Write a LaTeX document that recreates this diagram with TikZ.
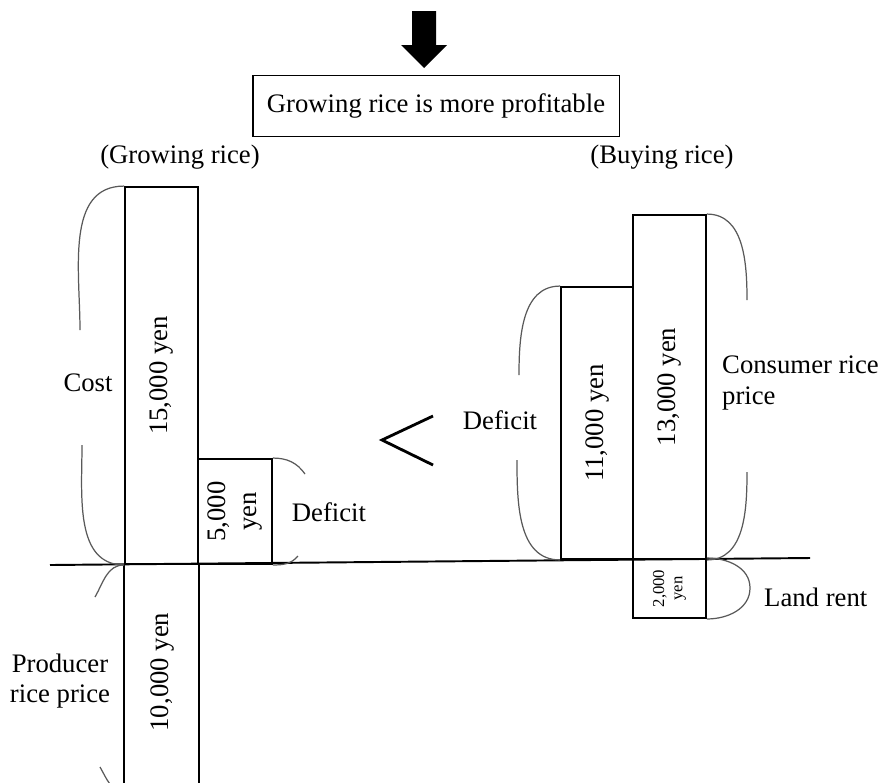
\documentclass[tikz,border=0pt]{standalone}
\usepackage{fontspec}
\setmainfont{Liberation Serif}
\usepackage{tikz}
\usetikzlibrary{calc, arrows.meta, positioning}

\begin{document}
\begin{tikzpicture}[x=0.02cm, y=-0.02cm,
    font=\fontsize{15.2}{17.5}\selectfont,
    bar/.style={draw, line width=1.1pt, inner sep=0pt},
    brace/.style={draw=black!65, line width=0.7pt},
    val/.style={rotate=90, align=center, inner sep=1pt}]
        \clip (0,0) rectangle (878,782);

        % header
        \fill (412,11) -- (436,11) -- (436,45) -- (447,45) -- (424,68) -- (401,45) -- (412,45) -- cycle;
        \node [draw, line width=1.1pt, minimum width=7.34cm, minimum height=1.22cm] (head) at (436,106) {Growing rice is more profitable};
        \node (grow) at (180,157) {(Growing rice)};
        \node (buy) at (662,157) {(Buying rice)};

        % growing rice
        \node [bar, minimum width=1.46cm, minimum height=7.54cm] (cost) at (161.5,375.5) {};
        \node [bar, minimum width=1.48cm, minimum height=2.10cm] (defL) at (235,511.5) {};
        \draw [line width=1.1pt] (cost.south west) -- ++(0,230);
        \draw [line width=1.1pt] (cost.south east) -- ++(0,230);
        \draw [line width=1.1pt] (50,565) -- (810,558);
        \node [val] at (cost.center) {15,000 yen};
        \node [val] at (defL.center) {5,000\\yen};
        \node [val] (prod) at (162,672) {10,000 yen};

        % buying rice
        \node [bar, minimum width=1.44cm, minimum height=5.44cm] (defR) at (597,423) {};
        \node [bar, minimum width=1.46cm, minimum height=6.88cm] (cons) at (669.5,387) {};
        \node [bar, minimum width=1.46cm, minimum height=1.18cm] (rent) at (669.5,588.5) {};
        \node [val] at (defR.center) {11,000 yen};
        \node [val] at (cons.center) {13,000 yen};
        \node [val, font=\fontsize{9.5}{10.5}\selectfont] at (rent.center) {2,000\\yen};

        \draw [line width=1.6pt] (433,416) -- (382,440) -- (433,465);

        % labels and braces
        \node (tCost) at (88,383) {Cost};
        \coordinate (c1) at (80,330);  \coordinate (c2) at (82,445);
        \draw [brace] (cost.north west) to[out=180,in=90] (c1);
        \draw [brace] (c2) to[out=-90,in=180] (cost.south west);

        \node (tDefL) at (329,512) {Deficit};
        \coordinate (d1) at (305,474); \coordinate (d2) at (298,556);
        \draw [brace] (defL.north east) to[out=0,in=125] (d1);
        \draw [brace] (d2) to[out=-130,in=0] (defL.south east);

        \node [align=center] (tProd) at (60,681) {Producer\\rice price};
        \coordinate (p1) at (95,597); \coordinate (p2) at (100,767); \coordinate (p3) at (125,792);
        \draw [brace] (cost.south west) to[out=180,in=60] (p1);
        \draw [brace] (p2) to[out=-60,in=180] (p3);

        \node (tDefR) at (500,420) {Deficit};
        \coordinate (e1) at (519,375); \coordinate (e2) at (517,460);
        \draw [brace] (defR.north west) to[out=180,in=90] (e1);
        \draw [brace] (e2) to[out=-90,in=180] (defR.south west);

        \node [anchor=west, align=left] (tCons) at (716,383) {Consumer rice\\price};
        \coordinate (f1) at (747,300); \coordinate (f2) at (747,472);
        \draw [brace] (cons.north east) to[out=0,in=90] (f1);
        \draw [brace] (f2) to[out=-90,in=0] (cons.south east);

        \node [anchor=west] (tRent) at (758,597) {Land rent};
        \coordinate (g1) at (750,588);
        \draw [brace] (rent.north east) to[out=0,in=90] (g1) to[out=-90,in=0] (rent.south east);
    \end{tikzpicture}
\end{document}
